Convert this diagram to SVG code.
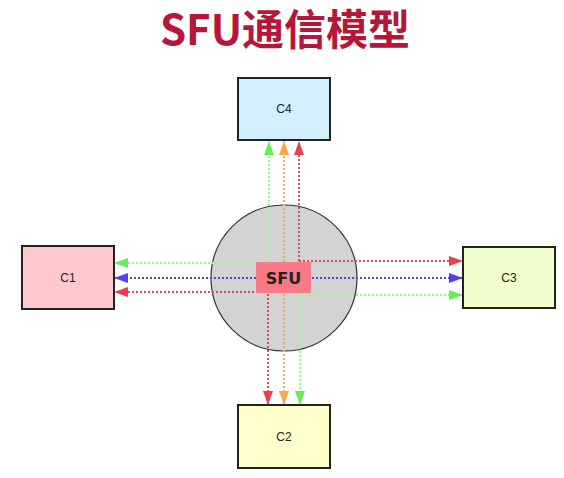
<svg xmlns="http://www.w3.org/2000/svg" width="564" height="478" viewBox="0 0 564 478">
<defs>
<style>
.box{stroke:#222;stroke-width:2}
.lbl{font-family:"Liberation Sans","DejaVu Sans",sans-serif;font-size:12px;fill:#222;text-anchor:middle;dominant-baseline:central}
.ln{fill:none;stroke-width:2;stroke-dasharray:2 2}
.g{stroke:#88ff88}
.o{stroke:#e8b070}
.r{stroke:#cc5560}
.b{stroke:#5544dd}
</style>
<marker id="ag" markerUnits="userSpaceOnUse" markerWidth="14" markerHeight="10" refX="14" refY="5" orient="auto"><path d="M0,0 L14,5 L0,10 Z" fill="#66ee55"/></marker>
<marker id="ao" markerUnits="userSpaceOnUse" markerWidth="14" markerHeight="10" refX="14" refY="5" orient="auto"><path d="M0,0 L14,5 L0,10 Z" fill="#f8a848"/></marker>
<marker id="ar" markerUnits="userSpaceOnUse" markerWidth="14" markerHeight="10" refX="14" refY="5" orient="auto"><path d="M0,0 L14,5 L0,10 Z" fill="#e84050"/></marker>
<marker id="ab" markerUnits="userSpaceOnUse" markerWidth="14" markerHeight="10" refX="14" refY="5" orient="auto"><path d="M0,0 L14,5 L0,10 Z" fill="#5540ee"/></marker>
</defs>
<rect width="564" height="478" fill="#fff"/>
<text x="285" y="45" font-family="'Noto Sans CJK SC','Noto Sans',sans-serif" font-weight="bold" font-size="42" fill="#b5173a" text-anchor="middle">SFU通信模型</text>

<g id="server">
<circle cx="284" cy="278" r="73" fill="#d3d3d3" stroke="#333" stroke-width="1.2"/>
</g>

<g id="connectors">
<line class="ln b" x1="284" y1="278" x2="114" y2="278" marker-end="url(#ab)"/>
<line class="ln b" x1="284" y1="278" x2="463" y2="278" marker-end="url(#ab)"/>
<line class="ln o" x1="284" y1="278" x2="284" y2="141" marker-end="url(#ao)"/>
<line class="ln o" x1="284" y1="278" x2="284" y2="405" marker-end="url(#ao)"/>
<line class="ln g" x1="269" y1="270" x2="269" y2="141" marker-end="url(#ag)"/>
<line class="ln g" x1="262" y1="263" x2="114" y2="263" marker-end="url(#ag)"/>
<line class="ln g" x1="300" y1="295" x2="300" y2="405" marker-end="url(#ag)"/>
<line class="ln g" x1="300" y1="295" x2="463" y2="295" marker-end="url(#ag)"/>
<line class="ln r" x1="299" y1="261" x2="299" y2="141" marker-end="url(#ar)"/>
<line class="ln r" x1="299" y1="261" x2="463" y2="261" marker-end="url(#ar)"/>
<line class="ln r" x1="262" y1="292" x2="114" y2="292" marker-end="url(#ar)"/>
<line class="ln r" x1="268" y1="286" x2="268" y2="405" marker-end="url(#ar)"/>
</g>

<g id="sfu">
<rect x="256" y="262" width="55" height="31" fill="#f77a85"/>
<text x="283.5" y="278" font-family="'DejaVu Sans','Liberation Sans',sans-serif" font-weight="bold" font-size="16" fill="#222" text-anchor="middle" dominant-baseline="central">SFU</text>
</g>

<g id="c4">
<rect class="box" x="238" y="78" width="92" height="62" fill="#d3eefd"/>
<text class="lbl" x="284" y="109">C4</text>
</g>
<g id="c1">
<rect class="box" x="22" y="246" width="92" height="63" fill="#ffc8cd"/>
<text class="lbl" x="68" y="278">C1</text>
</g>
<g id="c3">
<rect class="box" x="463" y="247" width="92" height="61" fill="#f0ffcc"/>
<text class="lbl" x="509" y="278">C3</text>
</g>
<g id="c2">
<rect class="box" x="238" y="405" width="92" height="63" fill="#ffffcc"/>
<text class="lbl" x="284" y="437">C2</text>
</g>
</svg>
